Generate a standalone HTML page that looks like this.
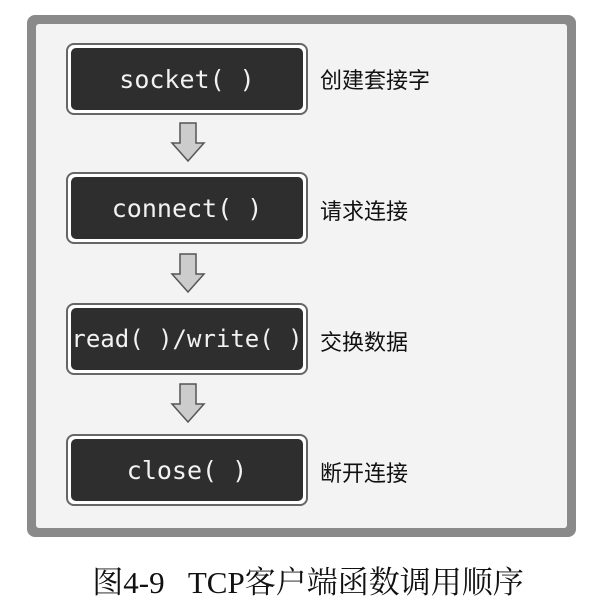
<!DOCTYPE html>
<html><head><meta charset="utf-8"><style>
body{margin:0;width:616px;height:608px;background:#fff;position:relative;overflow:hidden;font-family:"Liberation Sans","Noto Sans CJK SC",sans-serif}
.frame{position:absolute;left:27px;top:15px;width:549px;height:522px;box-sizing:border-box;background:#8a8a8a;border-radius:8px}
.inner{position:absolute;left:36px;top:24px;width:531px;height:504px;background:#f3f3f3;border-radius:3px}
.box{position:absolute;left:66px;width:242px;height:72px;box-sizing:border-box;border:2px solid #666;border-radius:8px;background:#fff;padding:3px}
.box div{width:100%;height:100%;background:#2e2e2e;border-radius:5px;color:#f2f2f2;font-family:"DejaVu Sans Mono","Liberation Mono",monospace;font-size:25px;display:flex;align-items:center;justify-content:center;white-space:nowrap}
.lbl{position:absolute;left:320px;font-size:22px;color:#111}
svg.ar{position:absolute;left:168px;width:40px;height:44px}
.cap{position:absolute;left:0;width:616px;top:557px;text-align:center;font-family:"Liberation Serif","Noto Serif CJK SC",serif;font-size:31px;color:#111}
</style></head><body>
<div class="frame"></div><div class="inner"></div>
<div class="box" style="top:43px"><div>socket( )</div></div>
<div class="box" style="top:172px"><div>connect( )</div></div>
<div class="box" style="top:303px"><div style="font-size:24px">read( )/write( )</div></div>
<div class="box" style="top:434px"><div>close( )</div></div>
<div class="lbl" style="top:63px">创建套接字</div>
<div class="lbl" style="top:194px">请求连接</div>
<div class="lbl" style="top:325px">交换数据</div>
<div class="lbl" style="top:456px">断开连接</div>
<svg class="ar" style="top:121px" viewBox="0 0 40 44"><polygon points="12,2 28,2 28,22 36,22 20,40 4,22 12,22" fill="#ccc" stroke="#555" stroke-width="1.5"/></svg>
<svg class="ar" style="top:252px" viewBox="0 0 40 44"><polygon points="12,2 28,2 28,22 36,22 20,40 4,22 12,22" fill="#ccc" stroke="#555" stroke-width="1.5"/></svg>
<svg class="ar" style="top:382px" viewBox="0 0 40 44"><polygon points="12,2 28,2 28,22 36,22 20,40 4,22 12,22" fill="#ccc" stroke="#555" stroke-width="1.5"/></svg>
<div class="cap">图4-9&nbsp;&nbsp;&nbsp;TCP客户端函数调用顺序</div>
</body></html>
